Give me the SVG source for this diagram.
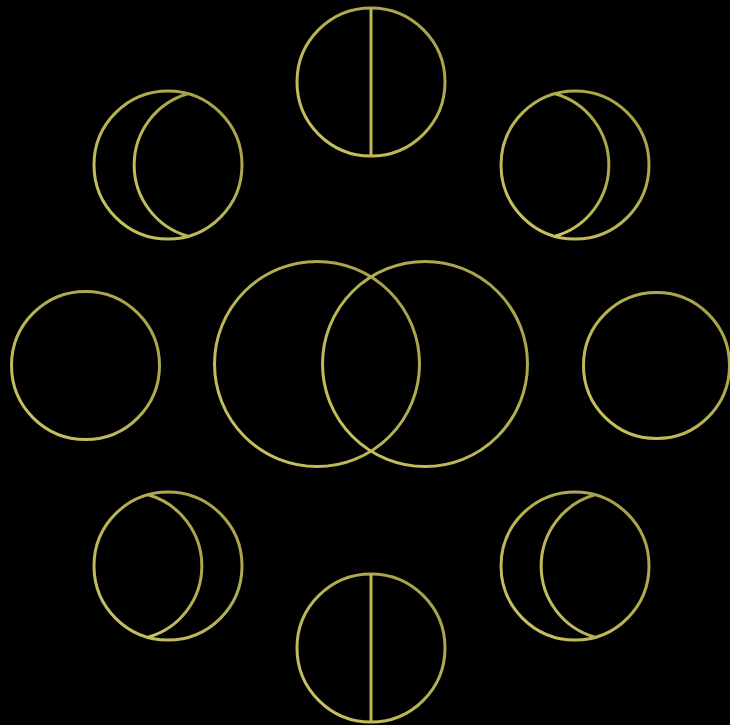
<svg xmlns="http://www.w3.org/2000/svg" width="730" height="725" viewBox="0 0 730 725">
  <defs>
    <linearGradient id="g" x1="1" y1="0" x2="0" y2="1">
      <stop offset="0" stop-color="#a39e48"/>
      <stop offset="1" stop-color="#cbc462"/>
    </linearGradient>
    <style>
      .s { fill: none; stroke: url(#g); stroke-width: 3; }
      .l { fill: none; stroke: #bdb658; stroke-width: 3; }
    </style>
  </defs>
  <rect width="730" height="725" fill="#000"/>
  <g id="top-half">
    <circle class="s" cx="371" cy="82" r="74"/>
    <line class="l" x1="371" y1="8" x2="371" y2="156"/>
  </g>
  <g id="bottom-half">
    <circle class="s" cx="371" cy="648" r="74"/>
    <line class="l" x1="371" y1="574" x2="371" y2="722"/>
  </g>
  <g id="left-full">
    <circle class="s" cx="85.5" cy="365.5" r="74"/>
  </g>
  <g id="right-full">
    <circle class="s" cx="656.5" cy="365.5" r="73"/>
  </g>
  <g id="top-left-crescent">
    <circle class="s" cx="168" cy="165" r="74"/>
    <path class="s" d="M188,93.8 A74,74 0 0 0 188,236.2"/>
  </g>
  <g id="top-right-crescent">
    <circle class="s" cx="575" cy="165" r="74"/>
    <path class="s" d="M555,93.8 A74,74 0 0 1 555,236.2"/>
  </g>
  <g id="bottom-left-crescent">
    <circle class="s" cx="168" cy="566" r="74"/>
    <path class="s" d="M148,494.8 A74,74 0 0 1 148,637.2"/>
  </g>
  <g id="bottom-right-crescent">
    <circle class="s" cx="575" cy="566" r="74"/>
    <path class="s" d="M595,494.8 A74,74 0 0 0 595,637.2"/>
  </g>
  <g id="center">
    <circle class="s" cx="317" cy="364" r="102.5"/>
    <circle class="s" cx="425" cy="364" r="102.5"/>
  </g>
  <g id="connectors"/>
</svg>
